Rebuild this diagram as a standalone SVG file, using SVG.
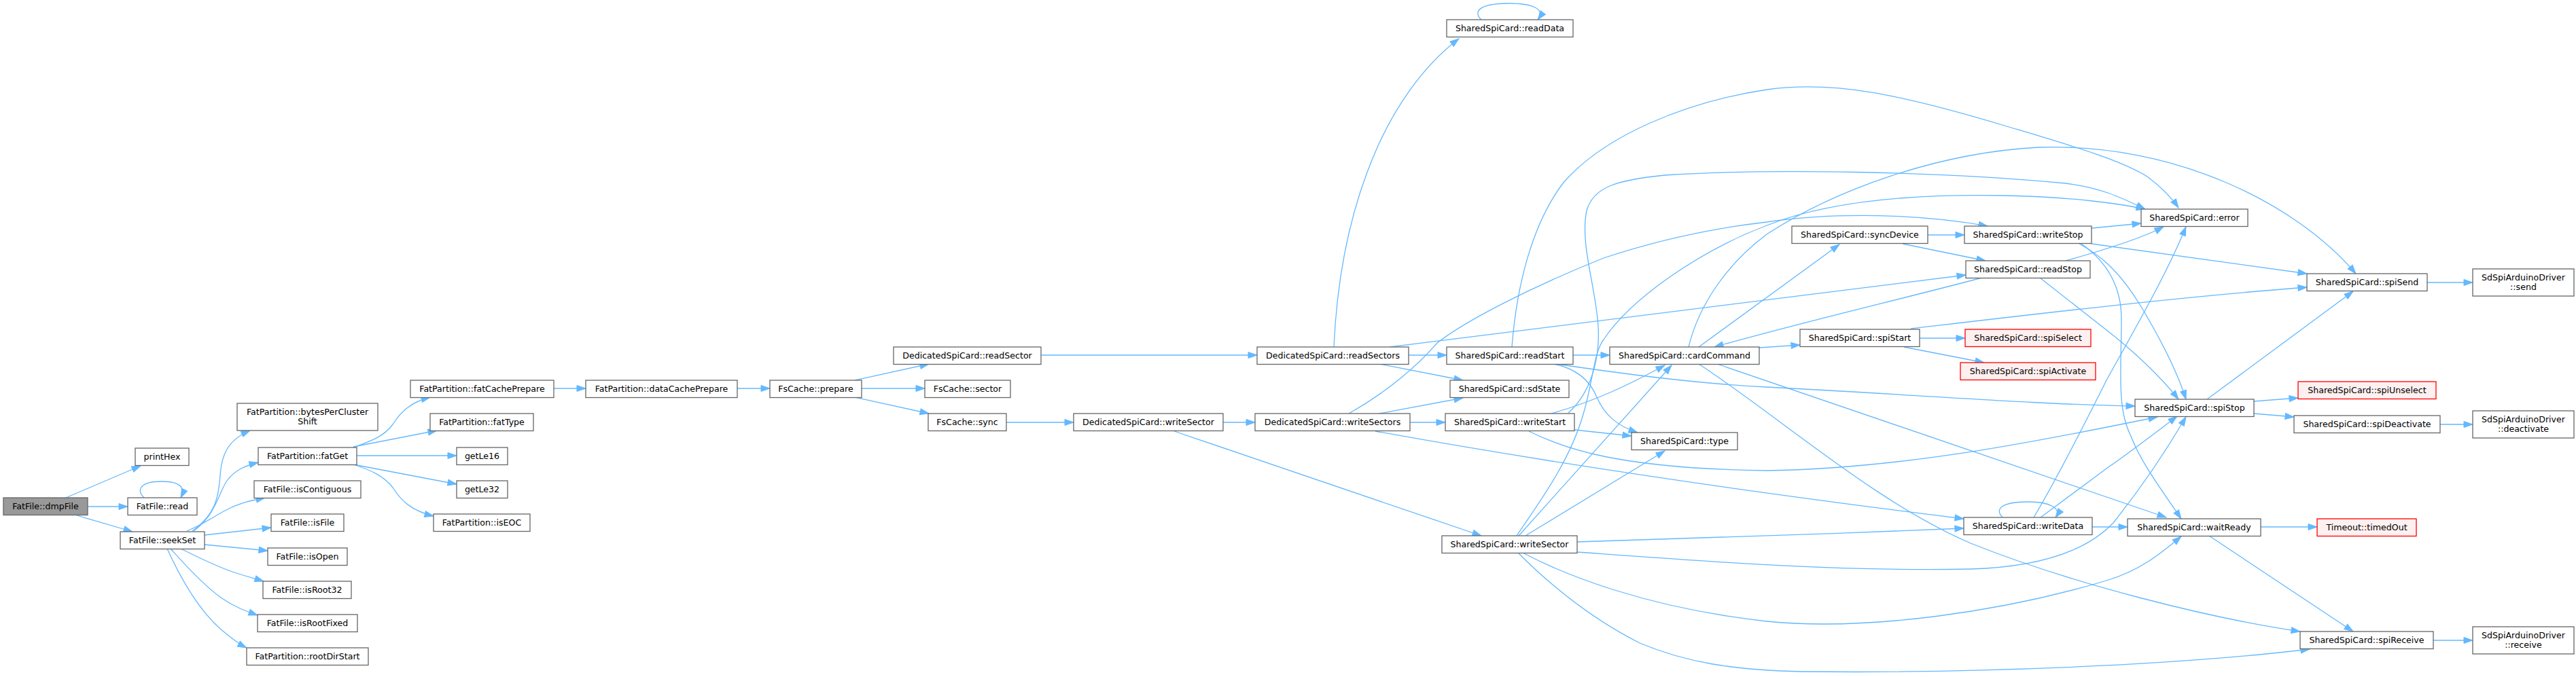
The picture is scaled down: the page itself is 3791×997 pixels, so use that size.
<svg xmlns="http://www.w3.org/2000/svg" width="3791" height="997" viewBox="0 0 3791 997">
<style>
.n rect{fill:#fff;stroke:#666;stroke-width:1.3}
.root rect{fill:#999}
.red rect{fill:#fff0f0;stroke:#f00}
text{font-family:"DejaVu Sans",Verdana,sans-serif;font-size:12.6px;text-anchor:middle;fill:#000}
#edges path{fill:none;stroke:#63b8ff;stroke-width:1.3;marker-end:url(#a)}
</style>
<defs>
<marker id="a" markerUnits="userSpaceOnUse" markerWidth="15" markerHeight="11" refX="13" refY="4.5" orient="auto" overflow="visible"><path d="M0,0 L13,4.5 L0,9 z" fill="#63b8ff" stroke="#63b8ff" stroke-width="1"/></marker>
</defs>
<rect width="3791" height="997" fill="#fff"/>
<g id="edges">
<path d="M97,733 L207,686"/>
<path d="M129,746 L188,746"/>
<path d="M113,759 L195,783"/>
<path d="M212,733 C200,721 207,709 238,709 C262,709 274,716 266,733"/>
<path d="M283,782 C318,757 322,730 324,700 C326,670 335,648 368,634"/>
<path d="M285,782 C318,758 322,725 334,708 C345,693 360,686 380,681"/>
<path d="M275,782 C300,772 315,760 335,750 C352,741 370,737 390,733"/>
<path d="M301,788 L399,777"/>
<path d="M301,802 L394,811"/>
<path d="M266,808 C290,820 320,835 345,843 C360,848 375,852 388,856"/>
<path d="M251,808 C275,835 300,862 325,880 C345,894 362,900 379,906"/>
<path d="M246,808 C265,850 295,905 335,935 C345,943 355,950 363,954"/>
<path d="M520,659 C545,650 565,643 578,625 C590,606 605,592 633,585"/>
<path d="M520,658 L643,634"/>
<path d="M525,671 L672,671"/>
<path d="M520,684 L672,713"/>
<path d="M520,684 C545,692 565,701 578,718 C590,737 605,752 638,760"/>
<path d="M815,572 L862,572"/>
<path d="M1085,572 L1133,572"/>
<path d="M1258,560 L1367,536"/>
<path d="M1268,572 L1361,572"/>
<path d="M1258,585 L1367,609"/>
<path d="M1532,523 L1850,523"/>
<path d="M1481,622 L1580,622"/>
<path d="M1800,622 L1847,622"/>
<path d="M1728,635 L2180,789"/>
<path d="M1963,511 C1968,400 1990,300 2027,217 C2050,165 2090,100 2147,57"/>
<path d="M2073,523 L2129,523"/>
<path d="M2030,536 L2153,560"/>
<path d="M2045,511 L2893,405"/>
<path d="M1985,609 C2040,578 2085,540 2115,505 C2160,470 2260,420 2360,380 C2450,350 2530,335 2600,327 C2700,312 2830,315 2925,333"/>
<path d="M2030,609 L2153,586"/>
<path d="M2075,622 L2127,622"/>
<path d="M2024,635 C2300,685 2600,728 2890,764"/>
<path d="M2180,29 C2168,18 2175,5 2220,5 C2255,5 2275,13 2263,29"/>
<path d="M2225,511 C2232,420 2255,330 2300,270 C2360,200 2480,150 2600,132 C2700,118 2800,140 2950,185 C3050,215 3120,235 3160,260 C3180,275 3195,290 3206,306"/>
<path d="M2315,523 L2369,523"/>
<path d="M2287,536 C2320,543 2340,560 2350,585 C2362,612 2380,627 2410,637"/>
<path d="M2297,537 C2400,552 2500,565 2600,570 C2800,580 3000,596 3142,598"/>
<path d="M2308,608 C2340,580 2355,530 2352,480 C2348,420 2325,360 2335,310 C2345,275 2380,265 2450,258 C2600,248 2850,252 3040,270 C3090,276 3120,290 3157,308"/>
<path d="M2283,609 C2350,590 2400,565 2450,538"/>
<path d="M2317,633 L2401,642"/>
<path d="M2250,635 C2300,660 2380,690 2600,693 C2800,690 3000,650 3175,614"/>
<path d="M2245,789 L2450,664"/>
<path d="M2235,789 L2460,538"/>
<path d="M2232,789 C2265,740 2310,680 2330,610 C2345,560 2345,520 2360,500 C2400,440 2500,370 2600,332 C2680,300 2800,285 2950,288 C3050,290 3120,300 3157,308"/>
<path d="M2321,798 C2500,793 2700,786 2890,778"/>
<path d="M2321,813 C2500,826 2700,842 2900,838 C3000,835 3070,812 3110,770 C3150,720 3190,660 3217,614"/>
<path d="M2243,815 C2300,845 2420,895 2600,915 C2750,930 2950,900 3100,855 C3150,840 3180,815 3210,790"/>
<path d="M2235,815 C2270,850 2330,905 2413,947 C2480,975 2550,987 2650,989 C2900,992 3200,980 3399,956"/>
<path d="M2500,511 L2707,360"/>
<path d="M2589,512 L2649,508"/>
<path d="M2527,536 L3188,762"/>
<path d="M2485,511 C2500,450 2540,390 2600,345 C2700,280 2850,225 3000,217 C3200,210 3380,300 3467,403"/>
<path d="M2500,536 C2620,615 2760,740 2900,800 C3050,860 3250,910 3385,930"/>
<path d="M2837,346 L2891,346"/>
<path d="M2800,359 L2922,384"/>
<path d="M2825,498 L2892,498"/>
<path d="M2802,511 L2920,534"/>
<path d="M2812,484 C3000,462 3200,438 3395,423"/>
<path d="M2917,409 C2800,440 2650,475 2523,511"/>
<path d="M3040,384 C3090,370 3150,352 3184,334"/>
<path d="M3002,409 L3100,486 C3140,517 3180,555 3206,588"/>
<path d="M3078,336 L3151,329"/>
<path d="M3078,359 C3200,375 3300,390 3395,403"/>
<path d="M3060,359 C3090,375 3120,400 3150,450 C3180,500 3205,550 3217,588"/>
<path d="M3063,359 C3100,385 3122,420 3122,470 C3122,540 3115,600 3135,640 C3150,680 3180,720 3210,764"/>
<path d="M2947,762 C2935,750 2945,739 2985,739 C3015,739 3035,748 3025,762"/>
<path d="M2993,762 C3030,700 3070,620 3100,560 C3150,470 3190,400 3217,334"/>
<path d="M3003,762 L3100,690 C3140,662 3175,635 3204,613"/>
<path d="M3079,776 L3131,776"/>
<path d="M3248,588 L3463,429"/>
<path d="M3317,591 L3382,586"/>
<path d="M3317,609 L3376,614"/>
<path d="M3327,776 L3410,776"/>
<path d="M3251,789 L3463,930"/>
<path d="M3572,416 L3639,416"/>
<path d="M3591,625 L3639,625"/>
<path d="M3581,943 L3639,943"/>
</g>
<g id="n1" class="n root"><rect x="5" y="733" width="124" height="25.5"/><text x="67" y="750.2">FatFile::dmpFile</text></g>
<g id="n2" class="n"><rect x="199" y="660" width="79" height="25.5"/><text x="238.5" y="677.2">printHex</text></g>
<g id="n3" class="n"><rect x="188" y="733" width="102" height="25.5"/><text x="239" y="750.2">FatFile::read</text></g>
<g id="n4" class="n"><rect x="177" y="783" width="124" height="25.5"/><text x="239" y="800.2">FatFile::seekSet</text></g>
<g id="n5" class="n"><rect x="349" y="594" width="207" height="40"/><text x="452.5" y="610.5">FatPartition::bytesPerCluster</text><text x="452.5" y="624.5">Shift</text></g>
<g id="n6" class="n"><rect x="380" y="659" width="145" height="25.5"/><text x="452.5" y="676.2">FatPartition::fatGet</text></g>
<g id="n7" class="n"><rect x="374" y="708" width="157" height="25.5"/><text x="452.5" y="725.2">FatFile::isContiguous</text></g>
<g id="n8" class="n"><rect x="399" y="757" width="107" height="25.5"/><text x="452.5" y="774.2">FatFile::isFile</text></g>
<g id="n9" class="n"><rect x="394" y="807" width="117" height="25.5"/><text x="452.5" y="824.2">FatFile::isOpen</text></g>
<g id="n10" class="n"><rect x="387" y="856" width="130" height="25.5"/><text x="452" y="873.2">FatFile::isRoot32</text></g>
<g id="n11" class="n"><rect x="379" y="905" width="147" height="25.5"/><text x="452.5" y="922.2">FatFile::isRootFixed</text></g>
<g id="n12" class="n"><rect x="363" y="954" width="179" height="25.5"/><text x="452.5" y="971.2">FatPartition::rootDirStart</text></g>
<g id="n13" class="n"><rect x="604" y="560" width="211" height="25.5"/><text x="709.5" y="577.2">FatPartition::fatCachePrepare</text></g>
<g id="n14" class="n"><rect x="633" y="609" width="152" height="25.5"/><text x="709" y="626.2">FatPartition::fatType</text></g>
<g id="n15" class="n"><rect x="672" y="659" width="75" height="25.5"/><text x="709.5" y="676.2">getLe16</text></g>
<g id="n16" class="n"><rect x="672" y="708" width="75" height="25.5"/><text x="709.5" y="725.2">getLe32</text></g>
<g id="n17" class="n"><rect x="638" y="757" width="142" height="25.5"/><text x="709" y="774.2">FatPartition::isEOC</text></g>
<g id="n18" class="n"><rect x="862" y="560" width="223" height="25.5"/><text x="973.5" y="577.2">FatPartition::dataCachePrepare</text></g>
<g id="n19" class="n"><rect x="1133" y="560" width="135" height="25.5"/><text x="1200.5" y="577.2">FsCache::prepare</text></g>
<g id="n20" class="n"><rect x="1315" y="511" width="217" height="25.5"/><text x="1423.5" y="528.2">DedicatedSpiCard::readSector</text></g>
<g id="n21" class="n"><rect x="1361" y="560" width="126" height="25.5"/><text x="1424" y="577.2">FsCache::sector</text></g>
<g id="n22" class="n"><rect x="1366" y="609" width="115" height="25.5"/><text x="1423.5" y="626.2">FsCache::sync</text></g>
<g id="n23" class="n"><rect x="1580" y="609" width="220" height="25.5"/><text x="1690" y="626.2">DedicatedSpiCard::writeSector</text></g>
<g id="n24" class="n"><rect x="1850" y="511" width="223" height="25.5"/><text x="1961.5" y="528.2">DedicatedSpiCard::readSectors</text></g>
<g id="n25" class="n"><rect x="1847" y="609" width="228" height="25.5"/><text x="1961" y="626.2">DedicatedSpiCard::writeSectors</text></g>
<g id="n26" class="n"><rect x="2129" y="29" width="186" height="25.5"/><text x="2222" y="46.2">SharedSpiCard::readData</text></g>
<g id="n27" class="n"><rect x="2129" y="511" width="186" height="25.5"/><text x="2222" y="528.2">SharedSpiCard::readStart</text></g>
<g id="n28" class="n"><rect x="2134" y="560" width="175" height="25.5"/><text x="2221.5" y="577.2">SharedSpiCard::sdState</text></g>
<g id="n29" class="n"><rect x="2127" y="609" width="190" height="25.5"/><text x="2222" y="626.2">SharedSpiCard::writeStart</text></g>
<g id="n30" class="n"><rect x="2122" y="789" width="199" height="25.5"/><text x="2221.5" y="806.2">SharedSpiCard::writeSector</text></g>
<g id="n31" class="n"><rect x="2369" y="511" width="220" height="25.5"/><text x="2479" y="528.2">SharedSpiCard::cardCommand</text></g>
<g id="n32" class="n"><rect x="2401" y="637" width="156" height="25.5"/><text x="2479" y="654.2">SharedSpiCard::type</text></g>
<g id="n33" class="n"><rect x="2637" y="333" width="200" height="25.5"/><text x="2737" y="350.2">SharedSpiCard::syncDevice</text></g>
<g id="n34" class="n"><rect x="2649" y="485" width="176" height="25.5"/><text x="2737" y="502.2">SharedSpiCard::spiStart</text></g>
<g id="n35" class="n"><rect x="2891" y="333" width="187" height="25.5"/><text x="2984.5" y="350.2">SharedSpiCard::writeStop</text></g>
<g id="n36" class="n"><rect x="2893" y="384" width="183" height="25.5"/><text x="2984.5" y="401.2">SharedSpiCard::readStop</text></g>
<g id="n37" class="n red"><rect x="2892" y="485" width="185" height="25.5"/><text x="2984.5" y="502.2">SharedSpiCard::spiSelect</text></g>
<g id="n38" class="n red"><rect x="2885" y="534" width="199" height="25.5"/><text x="2984.5" y="551.2">SharedSpiCard::spiActivate</text></g>
<g id="n39" class="n"><rect x="2890" y="762" width="189" height="25.5"/><text x="2984.5" y="779.2">SharedSpiCard::writeData</text></g>
<g id="n40" class="n"><rect x="3151" y="308" width="157" height="25.5"/><text x="3229.5" y="325.2">SharedSpiCard::error</text></g>
<g id="n41" class="n"><rect x="3142" y="588" width="175" height="25.5"/><text x="3229.5" y="605.2">SharedSpiCard::spiStop</text></g>
<g id="n42" class="n"><rect x="3131" y="764" width="196" height="25.5"/><text x="3229" y="781.2">SharedSpiCard::waitReady</text></g>
<g id="n43" class="n"><rect x="3395" y="403" width="177" height="25.5"/><text x="3483.5" y="420.2">SharedSpiCard::spiSend</text></g>
<g id="n44" class="n red"><rect x="3382" y="562" width="203" height="25.5"/><text x="3483.5" y="579.2">SharedSpiCard::spiUnselect</text></g>
<g id="n45" class="n"><rect x="3376" y="612" width="215" height="25.5"/><text x="3483.5" y="629.2">SharedSpiCard::spiDeactivate</text></g>
<g id="n46" class="n red"><rect x="3410" y="764" width="146" height="25.5"/><text x="3483" y="781.2">Timeout::timedOut</text></g>
<g id="n47" class="n"><rect x="3385" y="930" width="196" height="25.5"/><text x="3483" y="947.2">SharedSpiCard::spiReceive</text></g>
<g id="n48" class="n"><rect x="3639" y="396" width="149" height="40"/><text x="3713.5" y="412.5">SdSpiArduinoDriver</text><text x="3713.5" y="426.5">::send</text></g>
<g id="n49" class="n"><rect x="3639" y="605" width="149" height="40"/><text x="3713.5" y="621.5">SdSpiArduinoDriver</text><text x="3713.5" y="635.5">::deactivate</text></g>
<g id="n50" class="n"><rect x="3639" y="923" width="149" height="40"/><text x="3713.5" y="939.5">SdSpiArduinoDriver</text><text x="3713.5" y="953.5">::receive</text></g>
</svg>
